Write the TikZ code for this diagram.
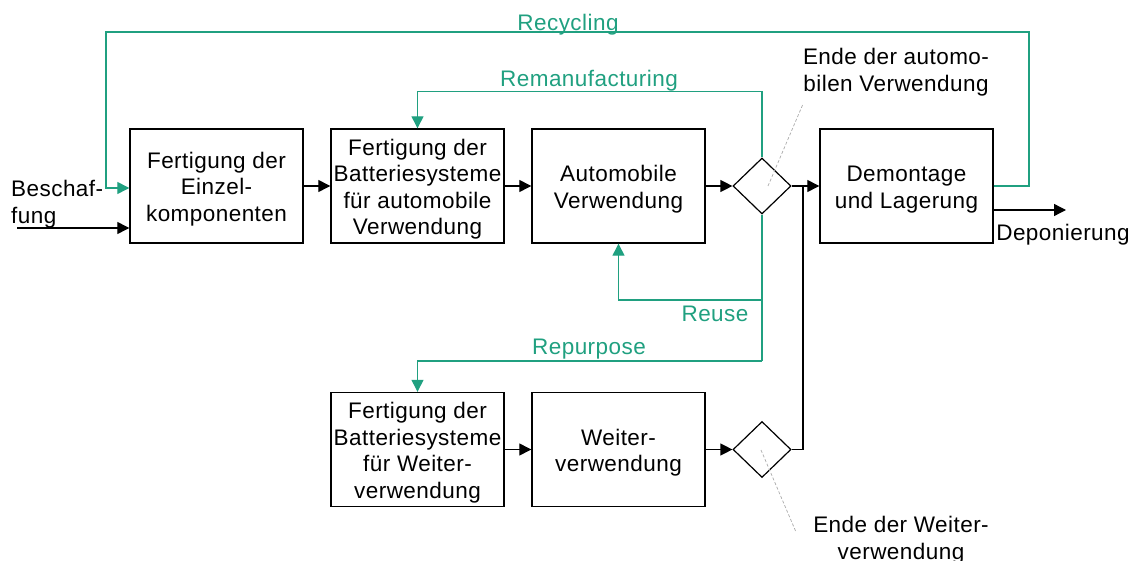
\documentclass[tikz,border=0pt]{standalone}
\usepackage{fontspec}
\setmainfont{Liberation Sans}[LetterSpace=2]
\usetikzlibrary{arrows.meta,shapes.geometric}
\definecolor{flowgreen}{RGB}{32,160,128}
\definecolor{notegray}{RGB}{170,170,170}
% a tall invisible strut that lowers text slightly inside its node
\newcommand\tstrut{\rule{0pt}{22.5pt}}
\tikzset{
  txt/.style={font=\fontsize{22.5}{26.5}\selectfont, inner sep=0pt, align=center},
  stage/.style={txt, draw, line width=1.4pt, minimum width=173pt, minimum height=114pt},
  gate/.style={draw, diamond, line width=1.2pt, minimum width=58pt, minimum height=56pt, inner sep=0pt},
  flow/.style={line width=1.3pt, -{Triangle[length=12pt,width=12pt]}},
  plain/.style={line width=1.3pt},
  loop/.style={flow, draw=flowgreen, color=flowgreen},
  looplabel/.style={txt, text=flowgreen},
  note/.style={draw=notegray, line width=0.7pt, dash pattern=on 3pt off 2pt},
}
\begin{document}
\begin{tikzpicture}[x=1pt,y=-1pt]
\useasboundingbox (0,0) rectangle (1138,561);

% process stages
\node[stage] (einzel) at (216.5,186) {\tstrut Fertigung der\\Einzel-\\komponenten};
\node[stage] (bsauto) at (417.5,186) {\tstrut Fertigung der\\Batteriesysteme\\für automobile\\Verwendung};
\node[stage] (auto)   at (618.5,186) {\tstrut Automobile\\Verwendung};
\node[stage] (demo)   at (906.5,186) {\tstrut Demontage\\und Lagerung};
\node[stage] (bsweit) at (417.5,449.5) {\tstrut Fertigung der\\Batteriesysteme\\für Weiter-\\verwendung};
\node[stage] (weiter) at (618.5,449.5) {\tstrut Weiter-\\verwendung};

% decision points
\node[gate] (endauto)  at (762,186) {};
\node[gate] (endweit)  at (762,449.5) {};

% free ends and junctions
\coordinate (src)  at (17,228);
\coordinate (dep)  at (1066,210);
\coordinate (join) at (803,186);

% main flow
\draw[flow] (src) -- (einzel.west |- src);
\draw[flow] (einzel) -- (bsauto);
\draw[flow] (bsauto) -- (auto);
\draw[flow] (auto) -- (endauto);
\draw[flow] (endauto) -- (demo);
\draw[flow] (bsweit) -- (weiter);
\draw[flow] (weiter) -- (endweit);
\draw[plain] (endweit.east) -| (join);
\draw[flow] ([yshift=-24pt]demo.east) -- (dep);

% recovery loops
\draw[loop] (demo.east) -| (1029,32) -| (106,188) -- (einzel.west |- 0,188);
\draw[loop] (endauto.north) -- ++(0,-66) -| (bsauto.north);
\draw[loop] (endauto.south) -- (762,300) -| (auto.south);
\draw[plain, draw=flowgreen] (endauto.south) -- (762,361);
\draw[loop] (762,361) -| (bsweit.north);

% loop labels
\node[looplabel] (lrec) at (568,22)  {\tstrut Recycling};
\node[looplabel] (lrem) at (589,78)  {\tstrut Remanufacturing};
\node[looplabel] (lreu) at (715,310) {\tstrut Reuse};
\node[looplabel] (lrep) at (589,346) {\tstrut Repurpose};

% side texts
\node[txt, align=left, anchor=west] (besch) at (11,201) {\tstrut Beschaf-\\fung};
\node[txt] (depo) at (1063,232) {\tstrut Deponierung};
\node[txt] (nauto) at (896,69) {\tstrut Ende der automo-\\bilen Verwendung};
\node[txt] (nweit) at (901,537) {\tstrut Ende der Weiter-\\verwendung};

% annotation leaders
\coordinate (pa) at (768,186);
\coordinate (qa) at (803,104);
\coordinate (pw) at (761,450);
\coordinate (qw) at (796,532);
\draw[note] (pa) -- (qa);
\draw[note] (pw) -- (qw);
\end{tikzpicture}
\end{document}
